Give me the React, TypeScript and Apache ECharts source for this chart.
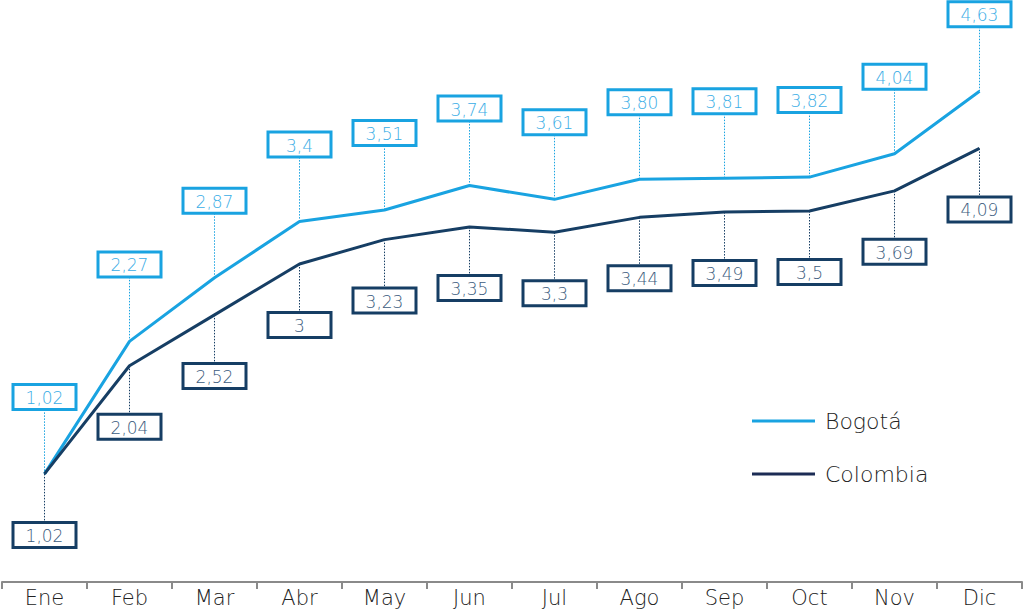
import React, { useEffect, useRef } from "react";
import * as echarts from "echarts";

const months = ["Ene", "Feb", "Mar", "Abr", "May", "Jun", "Jul", "Ago", "Sep", "Oct", "Nov", "Dic"];
const bogota = [1.02, 2.27, 2.87, 3.4, 3.51, 3.74, 3.61, 3.8, 3.81, 3.82, 4.04, 4.63];
const colombia = [1.02, 2.04, 2.52, 3.0, 3.23, 3.35, 3.3, 3.44, 3.49, 3.5, 3.69, 4.09];
const bogotaLabels = ["1,02", "2,27", "2,87", "3,4", "3,51", "3,74", "3,61", "3,80", "3,81", "3,82", "4,04", "4,63"];
const colombiaLabels = ["1,02", "2,04", "2,52", "3", "3,23", "3,35", "3,3", "3,44", "3,49", "3,5", "3,69", "4,09"];

const BLUE = "#19a3e1";
const NAVY = "#163e64";
const FONT = "'DejaVu Sans', sans-serif";

function boxSeries(name: string, values: number[], labels: string[], color: string, textColor: string, offset: number) {
  return {
    type: "custom",
    name: name + "-labels",
    data: values.map((v, i) => [i, v]),
    z: 3,
    silent: true,
    renderItem: (params: any, api: any) => {
      const i = api.value(0);
      const v = api.value(1);
      const p = api.coord([i, v]);
      const w = 63;
      const h = 25;
      const cy = p[1] + offset;
      const edge = offset < 0 ? cy + h / 2 : cy - h / 2;
      return {
        type: "group",
        children: [
          {
            type: "line",
            shape: { x1: p[0], y1: p[1], x2: p[0], y2: edge },
            style: { stroke: color, lineWidth: 1, lineDash: [1.5, 1.5] },
          },
          {
            type: "rect",
            shape: { x: p[0] - w / 2, y: cy - h / 2, width: w, height: h },
            style: { fill: "#ffffff", stroke: color, lineWidth: 3 },
          },
          {
            type: "text",
            x: p[0],
            y: cy + 1,
            style: {
              text: labels[params.dataIndex],
              fill: textColor,
              font: `200 17px ${FONT}`,
              align: "center",
              verticalAlign: "middle",
            },
          },
        ],
      };
    },
  };
}

export default function App() {
  const ref = useRef<HTMLDivElement>(null);
  useEffect(() => {
    if (!ref.current) return;
    const chart = echarts.init(ref.current, undefined, { renderer: "svg" });
    chart.setOption({
      animation: false,
      backgroundColor: "#ffffff",
      grid: { left: 2, right: 2, top: 52, bottom: 29 },
      legend: {
        orient: "vertical",
        left: 747,
        top: 405,
        padding: 5,
        itemWidth: 63,
        itemHeight: 3,
        itemGap: 31,
        icon: "rect",
        textStyle: { fontSize: 22, fontWeight: 200, color: "#222222", fontFamily: FONT, padding: [0, 0, 0, 5] },
        data: [
          { name: "Bogotá", itemStyle: { color: BLUE } },
          { name: "Colombia", itemStyle: { color: "#1c2c55" } },
        ],
      },
      xAxis: {
        type: "category",
        data: months,
        boundaryGap: true,
        axisLine: { lineStyle: { color: "#8a8a8a", width: 2 } },
        axisTick: { show: true, length: 7, lineStyle: { color: "#8a8a8a", width: 2 } },
        axisLabel: { fontSize: 21, fontWeight: 200, color: "#222222", fontFamily: FONT, margin: 5 },
      },
      yAxis: {
        type: "value",
        min: 0,
        max: 5,
        show: false,
        splitLine: { show: false },
      },
      series: [
        boxSeries("Bogotá", bogota, bogotaLabels, BLUE, "#3aade6", -77),
        boxSeries("Colombia", colombia, colombiaLabels, NAVY, "#3b5b7d", 61),
        {
          type: "line",
          name: "Bogotá",
          data: bogota,
          showSymbol: false,
          symbol: "none",
          z: 4,
          lineStyle: { color: BLUE, width: 3 },
          itemStyle: { color: BLUE },
        },
        {
          type: "line",
          name: "Colombia",
          data: colombia,
          showSymbol: false,
          symbol: "none",
          z: 4,
          lineStyle: { color: NAVY, width: 3 },
          itemStyle: { color: NAVY },
        },
      ],
    });
    return () => chart.dispose();
  }, []);
  return <div ref={ref} style={{ width: 1024, height: 611, position: "absolute", left: 0, top: 0 }} />;
}
